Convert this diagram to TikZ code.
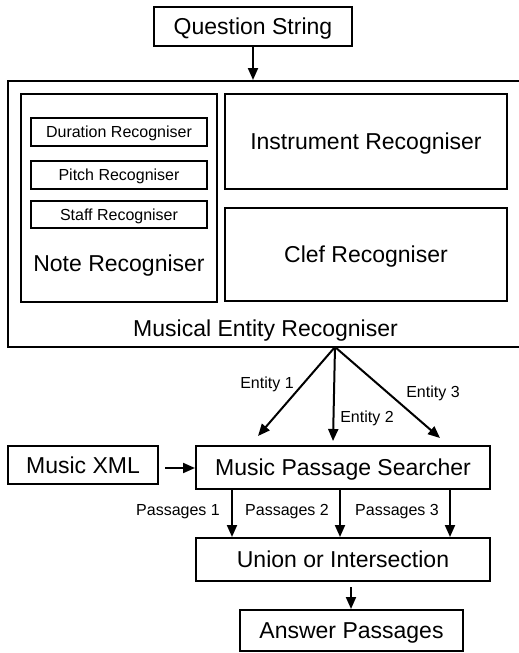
\documentclass[tikz,border=0pt]{standalone}
\usepackage{fontspec}
\setmainfont{Liberation Sans}
\usetikzlibrary{arrows.meta}
\tikzset{
  box/.style={draw, line width=2pt, inner sep=0pt, rectangle},
  big/.style={font=\fontsize{23}{26}\selectfont, text height=16.5pt, text depth=0pt},
  small/.style={font=\fontsize{16}{18}\selectfont, text height=11.5pt, text depth=0pt},
  arr/.style={line width=2pt, -{Triangle[length=12pt,width=10pt]}},
}
\begin{document}
\begin{tikzpicture}[x=1pt,y=-1pt]
\useasboundingbox (0,0) rectangle (519,653);
\clip (0,0) rectangle (519,653);
% top
\node[box,big,minimum width=198pt,minimum height=39pt] (qs) at (253,26.5) {Question String};
% outer entity recogniser
\node[box,minimum width=524pt,minimum height=266pt] (mer) at (270,214) {};
\node[big] (merl) at (265.5,328) {Musical Entity Recogniser};
% note recogniser
\node[box,minimum width=196pt,minimum height=208pt] (note) at (119,198) {};
\node[big] (notel) at (119,263) {Note Recogniser};
\node[box,small,minimum width=176pt,minimum height=28pt] (dur) at (119,132) {Duration Recogniser};
\node[box,small,minimum width=176pt,minimum height=28pt] (pitch) at (119,175) {Pitch Recogniser};
\node[box,small,minimum width=176pt,minimum height=27pt] (staff) at (119,214.5) {Staff Recogniser};
% instrument, clef
\node[box,big,minimum width=282pt,minimum height=95pt] (instr) at (366,141.5) {Instrument Recogniser};
\node[box,big,minimum width=282pt,minimum height=93pt] (clef) at (366,254.5) {Clef Recogniser};
% lower part
\node[box,big,minimum width=294pt,minimum height=43pt] (mps) at (343,467.5) {Music Passage Searcher};
\node[box,big,minimum width=150pt,minimum height=38pt] (xml) at (83,465) {Music XML};
\node[box,big,minimum width=294pt,minimum height=43pt] (union) at (343,559.5) {Union or Intersection};
\node[box,big,minimum width=223pt,minimum height=41pt] (ans) at (351.5,630.5) {Answer Passages};
% connectors
\draw[arr] (qs.south) -- (qs.south |- mer.north);
\coordinate (src) at (335,347);
\coordinate (e1) at (258,436);
\coordinate (e2) at (333,441);
\coordinate (e3) at (440,438);
\draw[arr] (src) -- (e1);
\draw[arr] (src) -- (e2);
\draw[arr] (src) -- (e3);
\node[small] (l1) at (267,383) {Entity 1};
\node[small] (l2) at (367,417) {Entity 2};
\node[small] (l3) at (433,392) {Entity 3};
\draw[arr, shorten <=6pt] (xml.east |- 0,468) -- (mps.west |- 0,468);
\draw[arr] (mps.south -| 232,0) -- (union.north -| 232,0);
\draw[arr] (mps.south -| 340,0) -- (union.north -| 340,0);
\draw[arr] (mps.south -| 450,0) -- (union.north -| 450,0);
\node[small] (p1) at (178,510) {Passages 1};
\node[small] (p2) at (287,510) {Passages 2};
\node[small] (p3) at (397,510) {Passages 3};
\draw[arr, shorten <=5pt] (union.south -| 351,0) -- (ans.north -| 351,0);
\end{tikzpicture}
\end{document}
